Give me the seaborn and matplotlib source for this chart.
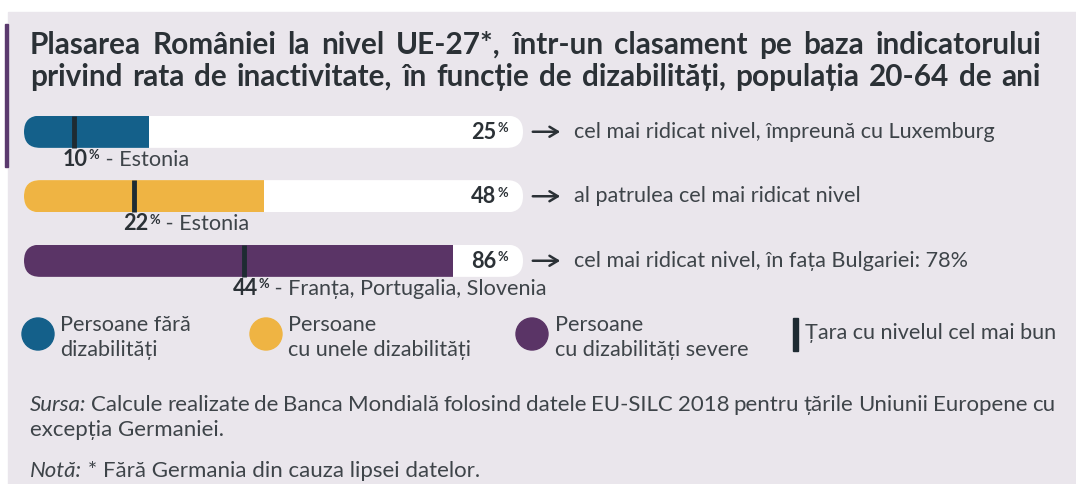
import numpy as np
import pandas as pd
import matplotlib.pyplot as plt
import seaborn as sns
from matplotlib.patches import FancyBboxPatch, Rectangle, Ellipse
from matplotlib.transforms import IdentityTransform

# date
categorii = ["Persoane fără dizabilități", "Persoane cu unele dizabilități",
             "Persoane cu dizabilități severe"]
romania = [25, 48, 86]
cel_mai_bun = [10, 22, 44]
tari_cel_mai_bun = ["Estonia", "Estonia", "Franța, Portugalia, Slovenia"]
comentarii = ["cel mai ridicat nivel, împreună cu Luxemburg",
              "al patrulea cel mai ridicat nivel",
              "cel mai ridicat nivel, în fața Bulgariei: 78%"]
legenda = ["Persoane fără\ndizabilități", "Persoane\ncu unele dizabilități",
           "Persoane\ncu dizabilități severe"]
culori = ["#14608a", "#efb443", "#5a3466"]

FUNDAL = "#eae6ec"
TEXT = "#2b3136"
GRI = "#3e4449"
MARKER = "#1e2b32"

W, H = 1076, 484
sns.set_theme(style="white")
plt.rcParams["font.family"] = ["Lato", "DejaVu Sans"]

fig = plt.figure(figsize=(W / 100, H / 100), dpi=100)
fig.patch.set_facecolor("white")
renderer = fig.canvas.get_renderer()


def fx(px):
    return px / W


def fy(py):
    return 1 - py / H


def width_of(t):
    return t.get_window_extent(renderer).width


def put(x, y, s, **kw):
    return fig.text(fx(x), fy(y), s, va="baseline", **kw)


def fit(s, target, **kw):
    # marimea fontului pentru care textul are latimea dorita (px)
    t = put(0, 0, s, fontsize=10, **kw)
    w = width_of(t)
    t.remove()
    return 10 * target / w


def justify(words, x0, x1, y, styles, **kw):
    texts = [put(0, y, w, **kw, **st) for w, st in zip(words, styles)]
    widths = [width_of(t) for t in texts]
    gap = (x1 - x0 - sum(widths)) / (len(words) - 1)
    x = x0
    for t, w in zip(texts, widths):
        t.set_x(fx(x))
        x += w + gap


# fundal panou + accent
fig.patches.append(Rectangle((fx(8), 0), 1, fy(12), transform=fig.transFigure,
                             color=FUNDAL, zorder=-2))
fig.patches.append(Rectangle((fx(5), fy(167)), fx(3), (167 - 24) / H,
                             transform=fig.transFigure, color="#5b3a6e", zorder=-1))

# titlu
rand1 = "Plasarea României la nivel UE-27*, într-un clasament pe baza indicatorului"
rand2 = "privind rata de inactivitate, în funcție de dizabilități, populația 20-64 de ani"
tfs = fit(rand2, 985, fontweight="bold")
for rand, yb in [(rand1, 54), (rand2, 86)]:
    cuv = rand.split()
    justify(cuv, 30, 1041, yb, [{}] * len(cuv), fontsize=tfs, fontweight="bold", color=TEXT)

# bare
ax = fig.add_axes([fx(24), fy(293), 499 / W, 193.5 / H])
df = pd.DataFrame({"cat": categorii, "val": romania, "full": [100] * 3})
sns.barplot(data=df, x="full", y="cat", color="white", width=0.5, saturation=1,
            linewidth=0, ax=ax)
sns.barplot(data=df, x="val", y="cat", hue="cat", palette=culori, width=0.5,
            saturation=1, linewidth=0, legend=False, ax=ax)
ax.vlines(cel_mai_bun, np.arange(3) - 0.25, np.arange(3) + 0.25, color=MARKER,
          lw=3.5, zorder=5)
ax.set_xlim(0, 100)
ax.set_ylim(2.5, -0.5)
ax.set_axis_off()

# capete rotunjite
clips = []
for i in range(3):
    x0, y0 = ax.transData.transform((0, i + 0.25))
    x1, y1 = ax.transData.transform((100, i - 0.25))
    h = y1 - y0
    clips.append(FancyBboxPatch((x0, y0), x1 - x0, h,
                                boxstyle=f"round,pad=0,rounding_size={h / 2}",
                                transform=IdentityTransform()))
for p in ax.patches:
    c = p.get_y() + p.get_height() / 2
    p.set_clip_path(clips[int(round(c))])

fs = fit(comentarii[0], 421)
for i in range(3):
    # pozitie in pixeli (sus-stanga)
    _, yc = ax.transData.transform((0, i))
    yc = H - yc
    xr, _ = ax.transData.transform((100, i))
    # valoare Romania
    pct = put(xr - 15, yc + 0.5, "%", fontsize=fs * 0.6, fontweight="bold", color=TEXT, ha="right")
    put(xr - 15 - width_of(pct) - 1, yc + 7, str(romania[i]), fontsize=fs,
        fontweight="bold", color=TEXT, ha="right")
    # sageata + comentariu
    fig.add_artist(plt.Annotation("", xy=(fx(xr + 40), fy(yc)), xytext=(fx(xr + 7), fy(yc)),
                                  xycoords="figure fraction",
                                  arrowprops=dict(arrowstyle="->,head_length=0.5,head_width=0.3",
                                                  color=TEXT, lw=1.8)))
    put(xr + 51, yc + 6, comentarii[i], fontsize=fs, color=GRI)
    # cel mai bun nivel
    xb, _ = ax.transData.transform((cel_mai_bun[i], i))
    x = xb - 11
    t = put(x, yc + 34, str(cel_mai_bun[i]), fontsize=fs, fontweight="bold", color=TEXT)
    x += width_of(t) + 1
    t = put(x, yc + 27.5, "%", fontsize=fs * 0.6, fontweight="bold", color=TEXT)
    x += width_of(t)
    put(x, yc + 34, " - " + tari_cel_mai_bun[i], fontsize=fs, color=GRI)

# legenda
for cx, tx, lab, col in zip([38, 266, 532], [60, 288, 555], legenda, culori):
    fig.patches.append(Ellipse((fx(cx), fy(334)), 32 / W, 32 / H,
                               transform=fig.transFigure, color=col))
    l1, l2 = lab.split("\n")
    put(tx, 331, l1, fontsize=fs, color=GRI)
    put(tx, 356, l2, fontsize=fs, color=GRI)
fig.patches.append(Rectangle((fx(793), fy(351)), fx(4.5), 33 / H,
                             transform=fig.transFigure, color=MARKER))
put(805, 339, "Țara cu nivelul cel mai bun", fontsize=fs, color=GRI)

# sursa si nota
nota = " * Fără Germania din cauza lipsei datelor."
t = put(0, 0, "Notă:", fontsize=10, style="italic")
ffs = fit(nota, 436 - width_of(t) * 1.2)
t.remove()
sursa = ("Sursa: Calcule realizate de Banca Mondială folosind datele EU-SILC 2018 "
         "pentru țările Uniunii Europene cu").split()
justify(sursa, 30, 1055, 411, [{"style": "italic"}] + [{}] * (len(sursa) - 1),
        fontsize=ffs, color=GRI)
put(30, 436, "excepția Germaniei.", fontsize=ffs, color=GRI)
t = put(30, 477, "Notă:", fontsize=ffs, color=GRI, style="italic")
put(30 + width_of(t), 477, nota, fontsize=ffs, color=GRI)

fig.savefig("out.png", dpi=100, facecolor=fig.get_facecolor())
